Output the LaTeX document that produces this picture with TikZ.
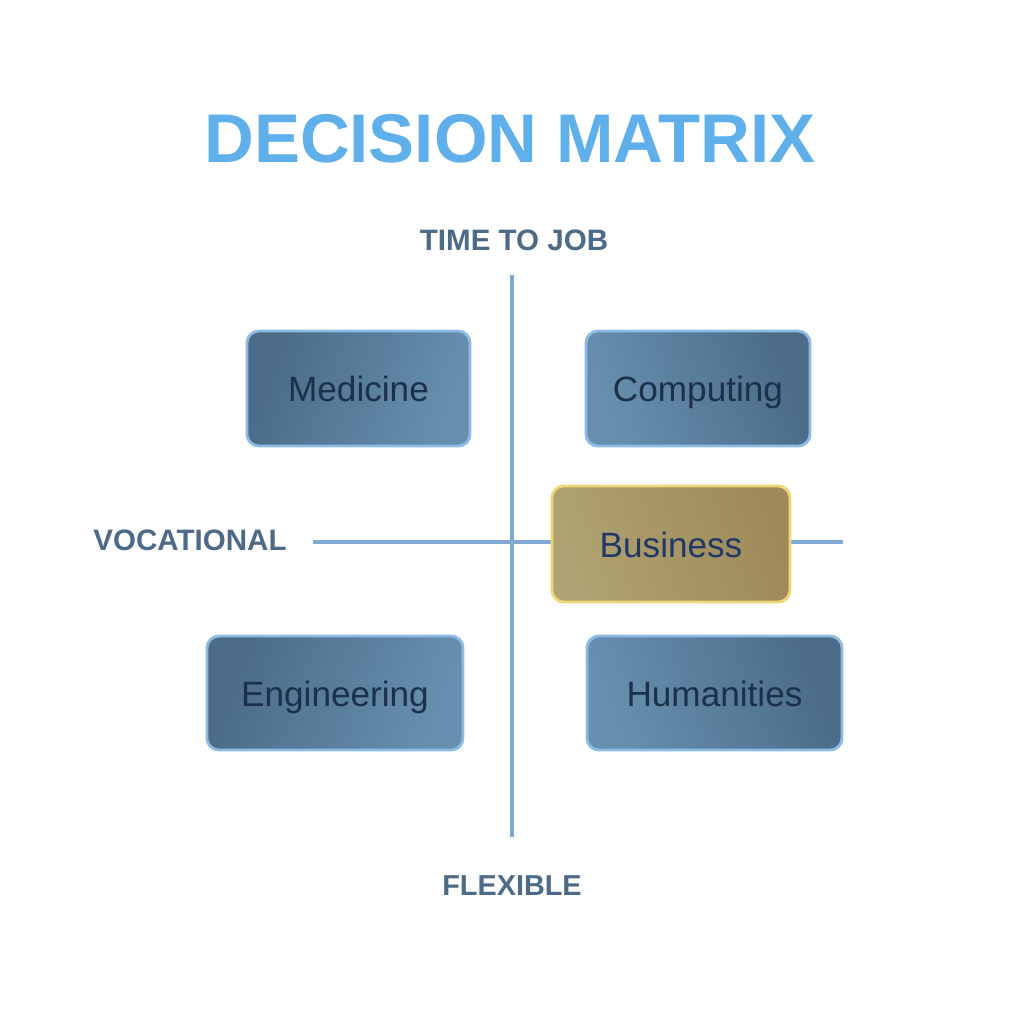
\documentclass[tikz,border=0pt]{standalone}
\usepackage{fontspec}
\setmainfont{Liberation Sans}
\usetikzlibrary{positioning}

\begin{document}
\begin{tikzpicture}[x=0.01cm, y=-0.01cm]
    \definecolor{titleColour}{HTML}{5FB0EA}
    \definecolor{axisColour}{HTML}{7FA9D2}
    \definecolor{labelColour}{HTML}{4D6B87}
    \definecolor{boxDark}{HTML}{4B6B87}
    \definecolor{boxLight}{HTML}{6790B0}
    \definecolor{boxEdge}{HTML}{8EBBE4}
    \definecolor{boxText}{HTML}{1C304A}
    \definecolor{goldDark}{HTML}{9E8A58}
    \definecolor{goldLight}{HTML}{B0A272}
    \definecolor{goldEdge}{HTML}{EED677}
    \definecolor{goldText}{HTML}{1F3868}

    \tikzset{
        field/.style={draw=boxEdge, line width=0.8pt, rounded corners=0.12cm, minimum height=1.15cm,
            text height=1.6ex, text depth=0.18ex, text=boxText, font=\fontsize{10}{12}\selectfont},
        darkleft/.style={left color=boxDark, right color=boxLight, shading angle=70},
        darkright/.style={left color=boxLight, right color=boxDark, shading angle=110},
        axislabel/.style={text=labelColour, font=\bfseries\fontsize{8.4}{10}\selectfont}
    }

    \useasboundingbox[fill=white] (0,0) rectangle (1024,1024);

    % Title
    \node[text=titleColour, font=\bfseries\fontsize{19.6}{24}\selectfont] (title) at (510,139) {DECISION MATRIX};

    % Axes
    \coordinate (vtop) at (512,275);
    \coordinate (vbot) at (512,837);
    \coordinate (hleft) at (313,542);
    \coordinate (hright) at (843,542);
    \draw[axisColour, line width=0.9pt] (vtop) -- (vbot);
    \draw[axisColour, line width=0.9pt] (hleft) -- (hright);

    % Axis labels
    \node[axislabel] (timejob) at (514,240) {TIME TO JOB};
    \node[axislabel] (vocational) at (190,540) {VOCATIONAL};
    \node[axislabel, font=\bfseries\fontsize{8.2}{10}\selectfont] (flexible) at (512,886) {FLEXIBLE};

    % Fields
    \node[field, darkleft, minimum width=2.23cm] (medicine) at (358.5,388.5) {Medicine};
    \node[field, darkright, minimum width=2.24cm] (computing) at (698,388.5) {Computing};
    \node[field, darkleft, minimum width=2.56cm, minimum height=1.14cm] (engineering) at (335,693) {Engineering};
    \node[field, darkright, minimum width=2.55cm, minimum height=1.14cm] (humanities) at (714.5,693) {Humanities};
    \node[field, draw=goldEdge, left color=goldLight, right color=goldDark, shading angle=110,
        text=goldText, minimum width=2.38cm, minimum height=1.16cm] (business) at (671,544) {Business};

\end{tikzpicture}
\end{document}
